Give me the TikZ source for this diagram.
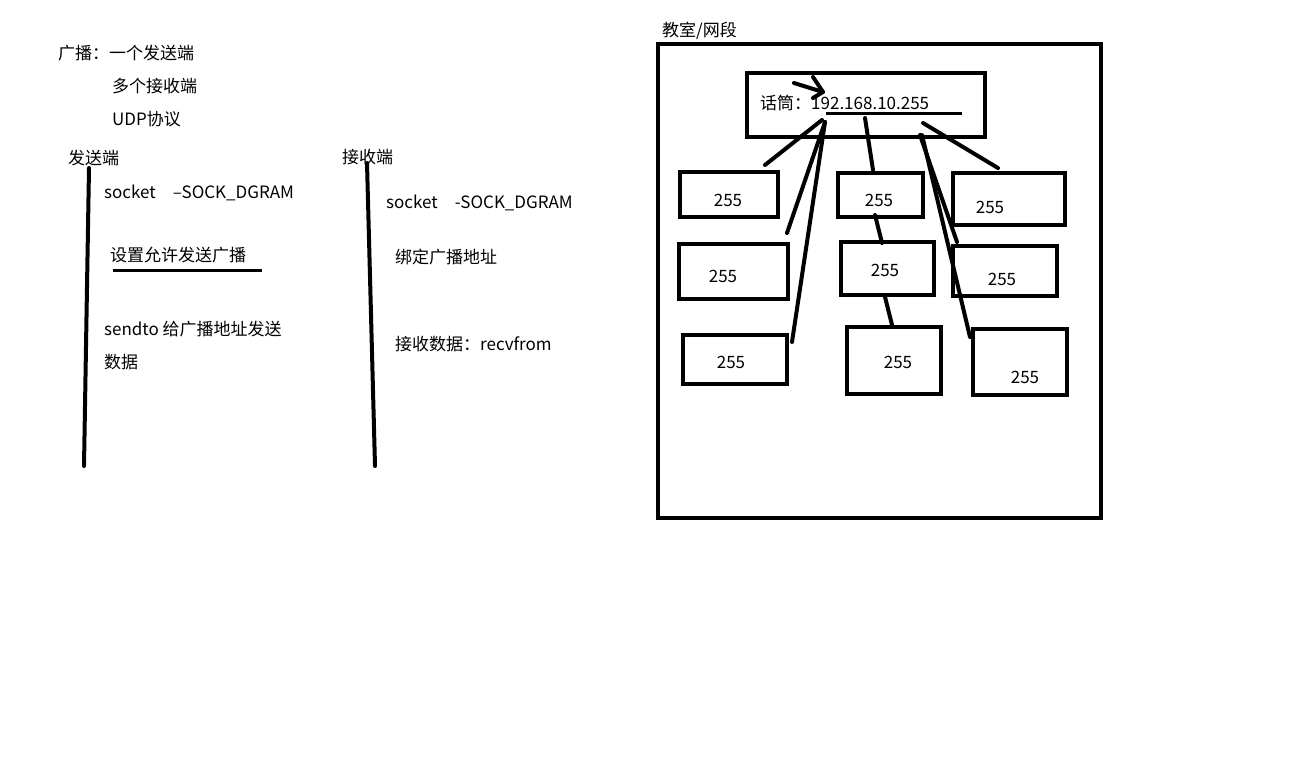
\documentclass[tikz,border=0pt]{standalone}
\usepackage{fontspec}
\setmainfont{Noto Sans CJK SC}
\begin{document}
\begin{tikzpicture}[x=1pt,y=-1pt,
  txt/.style={anchor=west,inner sep=0pt,font=\fontsize{17}{20}\selectfont},
  thick4/.style={line width=4pt,line cap=round},
  bx/.style={line width=4pt},
  lbl/.style={inner sep=0pt,font=\fontsize{17}{20}\selectfont}]
\useasboundingbox (0,0) rectangle (1296,772);
\fill[white] (0,0) rectangle (1296,772);
% left
\node[txt] (t1) at (58,53) {广播：一个发送端};
\node[txt] (t2) at (112,86) {多个接收端};
\node[txt] (t3) at (112,119) {UDP协议};
\node[txt] (s0) at (68,158) {发送端};
\coordinate (sa) at (89,168); \coordinate (sb) at (84,466);
\draw[thick4] (sa) -- (sb);
\node[txt] (s1) at (104,193) {socket\quad --SOCK\_DGRAM};
\node[txt] (s2) at (110,255) {设置允许发送广播};
\coordinate (ua) at (113,270); \coordinate (ub) at (262,270);
\draw[line width=3pt] (ua) -- (ub);
\node[txt] (s3) at (104,329) {sendto 给广播地址发送};
\node[txt] (s4) at (104,362) {数据};
\node[txt] (r0) at (342,157) {接收端};
\coordinate (ra) at (367,163); \coordinate (rb) at (375,466);
\draw[thick4] (ra) -- (rb);
\node[txt] (r1) at (386,203) {socket\quad -SOCK\_DGRAM};
\node[txt] (r2) at (395,257) {绑定广播地址};
\node[txt] (r3) at (395,344) {接收数据：recvfrom};
% right
\node[txt] (title) at (662,31) {教室/网段};
\draw[bx] (658,44) rectangle (1101,518);
\draw[bx] (747,73) rectangle (985,137);
\node[txt] (mic) at (760,103) {话筒：192.168.10.255};
\coordinate (m1) at (826,113); \coordinate (m2) at (962,113);
\draw[line width=3pt] (m1) -- (m2);
\coordinate (aa) at (794,83); \coordinate (ab) at (823,92);
\coordinate (ac) at (813,77); \coordinate (ad) at (813,98);
\draw[thick4] (aa) -- (ab); \draw[thick4,line join=round] (ac) -- (ab) -- (ad);
% boxes
\draw[bx] (680,172) rectangle (778,217); \node[lbl] (b1) at (728,200) {255};
\draw[bx] (679,244) rectangle (788,299); \node[lbl] (b2) at (723,276) {255};
\draw[bx] (683,335) rectangle (787,384); \node[lbl] (b3) at (731,362) {255};
\draw[bx] (838,173) rectangle (923,217); \node[lbl] (b4) at (879,200) {255};
\draw[bx] (841,242) rectangle (934,295); \node[lbl] (b5) at (885,270) {255};
\draw[bx] (847,327) rectangle (941,394); \node[lbl] (b6) at (898,362) {255};
\draw[bx] (953,173) rectangle (1065,225); \node[lbl] (b7) at (990,207) {255};
\draw[bx] (953,246) rectangle (1057,296); \node[lbl] (b8) at (1002,279) {255};
\draw[bx] (973,329) rectangle (1067,395); \node[lbl] (b9) at (1025,377) {255};
% connectors
\draw[thick4] (822,120) -- (765,165);
\draw[thick4] (825,122) -- (787,233);
\draw[thick4] (825,122) -- (792,342);
\draw[thick4] (865,118) -- (873,170);
\draw[thick4] (875,215) -- (882,243);
\draw[thick4] (885,297) -- (892,325);
\draw[thick4] (923,123) -- (998,168);
\draw[thick4] (920,135) -- (957,242);
\draw[thick4] (922,135) -- (970,337);
\end{tikzpicture}
\end{document}
